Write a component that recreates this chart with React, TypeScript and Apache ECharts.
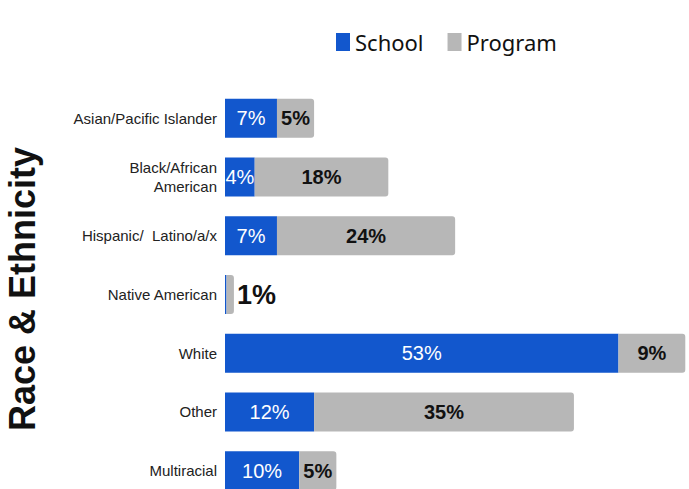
import React, { useEffect, useRef } from "react";
import * as echarts from "echarts";

const categories = [
  "Asian/Pacific Islander",
  "Black/African\nAmerican",
  "Hispanic/  Latino/a/x",
  "Native American",
  "White",
  "Other",
  "Multiracial",
];
const schoolValues = [7, 4, 7, 0.2, 53, 12, 10];
const programValues = [5, 18, 24, 1, 9, 35, 5];

export default function App() {
  const ref = useRef<HTMLDivElement>(null);
  useEffect(() => {
    if (!ref.current) return;
    const chart = echarts.init(ref.current, null, { renderer: "svg" });
    const blue = "#1257CD";
    const gray = "#B7B7B7";
    chart.setOption({
      animation: false,
      legend: {
        top: 26,
        left: 331,
        itemWidth: 14,
        itemHeight: 18,
        itemGap: 24,
        icon: "rect",
        textStyle: { fontFamily: "Noto Sans", fontSize: 22, color: "#111" },
        data: ["School", "Program"],
      },
      grid: { left: 225, right: 0, top: 89, bottom: 0, containLabel: false },
      xAxis: { type: "value", min: 0, max: 62.5, show: false },
      yAxis: {
        type: "category",
        inverse: true,
        data: categories,
        axisLine: { show: false },
        axisTick: { show: false },
        axisLabel: {
          margin: 8,
          fontFamily: "Liberation Sans",
          fontSize: 15,
          lineHeight: 19,
          color: "#222",
        },
      },
      graphic: [
        {
          type: "text",
          x: 22,
          y: 289,
          rotation: Math.PI / 2,
          style: {
            text: "Race & Ethnicity",
            font: "bold 36px 'Liberation Sans'",
            fill: "#111",
            textAlign: "center",
            textVerticalAlign: "middle",
          },
        },
      ],
      series: [
        {
          name: "School",
          type: "bar",
          stack: "total",
          barWidth: 39,
          itemStyle: { color: blue },
          label: {
            show: true,
            position: "inside",
            formatter: "{c}%",
            color: "#fff",
            fontFamily: "Liberation Sans",
            fontSize: 20,
          },
          data: schoolValues.map((v, i) =>
            i === 3 ? { value: v, label: { show: false } } : v
          ),
        },
        {
          name: "Program",
          type: "bar",
          stack: "total",
          barWidth: 39,
          itemStyle: { color: gray, borderRadius: [0, 3, 3, 0] },
          label: {
            show: true,
            position: "inside",
            formatter: "{c}%",
            color: "#111",
            fontWeight: "bold",
            fontFamily: "Liberation Sans",
            fontSize: 20,
          },
          data: programValues.map((v, i) =>
            i === 3
              ? { value: v, label: { position: "right", distance: 3, fontSize: 27 } }
              : v
          ),
        },
      ],
    });
    return () => chart.dispose();
  }, []);
  return (
    <div
      style={{
        position: "fixed",
        left: 0,
        top: 0,
        width: 689,
        height: 489,
        overflow: "hidden",
        background: "#fff",
      }}
    >
      <div ref={ref} style={{ width: 689, height: 500 }} />
    </div>
  );
}
